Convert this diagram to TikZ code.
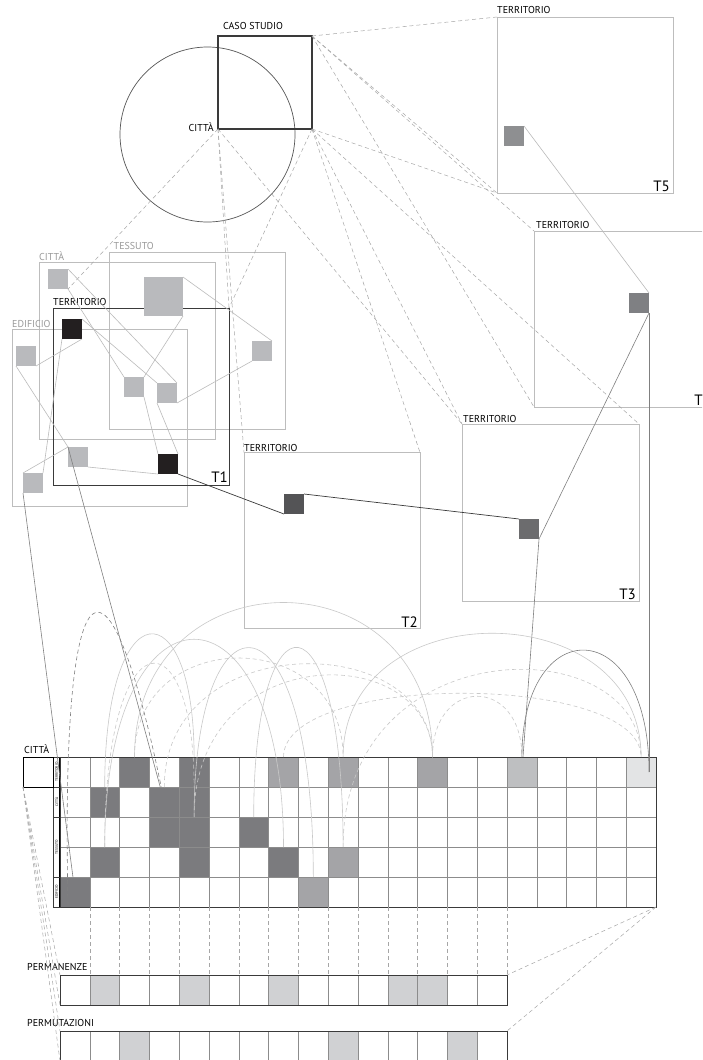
\documentclass[tikz,border=0pt]{standalone}
\usepackage{fontspec}
\setmainfont{PT Sans}
\usetikzlibrary{positioning}

\definecolor{boxgray}{HTML}{BDBDBD}
\definecolor{txtgray}{HTML}{9A9A9A}
\definecolor{sqlight}{HTML}{B9BABD}
\definecolor{sqblack}{HTML}{231F20}
\definecolor{sqTtwo}{HTML}{545456}
\definecolor{sqTthree}{HTML}{6C6C6E}
\definecolor{sqTfour}{HTML}{7F8083}
\definecolor{sqTfive}{HTML}{8E8F91}
\definecolor{cdark}{HTML}{7B7B7E}
\definecolor{cmid}{HTML}{A4A4A7}
\definecolor{clight}{HTML}{BEBFC1}
\definecolor{cvlight}{HTML}{E3E4E5}
\definecolor{cperm}{HTML}{D0D1D3}
\definecolor{cellgray}{HTML}{8C8C8C}
\definecolor{arcgray}{HTML}{C9C9C9}
\definecolor{dashgray}{HTML}{A6A6A6}
\definecolor{linegray}{HTML}{BBBBBB}
\definecolor{framedark}{HTML}{3A3A3A}
\definecolor{circgray}{HTML}{555555}

\begin{document}
\begin{tikzpicture}[x=1pt, y=-1pt,
  lbl/.style={inner sep=0pt, font=\fontsize{10}{12}\selectfont},
  glbl/.style={lbl, text=txtgray},
  tlab/.style={inner sep=0pt, font=\fontsize{15}{17}\selectfont},
  tbox/.style={draw=boxgray, line width=0.9pt, minimum size=176pt, inner sep=0pt, outer sep=0pt},
  lbox/.style={draw=boxgray, line width=0.9pt, minimum width=176pt, minimum height=177pt, inner sep=0pt, outer sep=0pt},
  sq/.style={minimum size=20pt, inner sep=0pt, outer sep=0pt},
  cell/.style={draw=cellgray, line width=0.6pt, minimum width=29.8pt, minimum height=30pt, inner sep=0pt, outer sep=0pt},
  labcell/.style={draw=framedark, line width=0.4pt, minimum width=30pt, minimum height=7pt, inner sep=0pt, outer sep=0pt, rotate=90, font=\fontsize{3.6}{4}\selectfont},
  pframe/.style={framedark, line width=0.9pt},
  dline/.style={dashgray, line width=0.5pt, dash pattern=on 4pt off 3pt},
  thinline/.style={linegray, line width=0.6pt},
  midline/.style={gray, line width=0.6pt},
  darkline/.style={framedark, line width=0.7pt},
  arcl/.style={arcgray, line width=0.6pt},
  arcd/.style={arcl, dash pattern=on 4pt off 3pt},
]
\fill[white] (0,0) rectangle (702,1060);
\clip (0,0) rectangle (702,1060);

\node (city) [circle, draw=circgray, line width=0.7pt, minimum size=175pt, inner sep=0pt] at (207.5,134.5) {};
\node (caso) [draw=framedark, line width=1.3pt, minimum width=94pt, minimum height=93pt, inner sep=0pt, outer sep=0pt] at (265,82.5) {};
\node (casolab) [lbl, above right=6pt and 5pt of caso.north west] {CASO STUDIO};
\node (citylab) [lbl, anchor=base east] at ([xshift=-4pt,yshift=-2pt]caso.south west) {CITTÀ};

\node (t5) [tbox] at (585,105) {};
\node (t4) [tbox] at (622,319) {};
\node (t3) [tbox, minimum size=177pt] at (550.5,512.5) {};
\node (t2) [tbox] at (332,540.5) {};
\node (t5lab) [lbl, above right=3pt and 0pt of t5.north west] {TERRITORIO};
\node (t4lab) [lbl, above right=2pt and 2pt of t4.north west] {TERRITORIO};
\node (t3lab) [lbl, above right=1pt and 1pt of t3.north west] {TERRITORIO};
\node (t2lab) [lbl, above right=1pt and 0pt of t2.north west] {TERRITORIO};
\node (t5num) [tlab, above left=1pt and 3pt of t5.south east] {T5};
\node (t4num) [tlab, above left=1pt and 7pt of t4.south east] {T};
\node (t3num) [tlab, above left=1pt and 3pt of t3.south east] {T3};
\node (t2num) [tlab, above left=1pt and 2pt of t2.south east] {T2};

\node (cittabox) [lbox] at (127,350.5) {};
\node (tessbox) [lbox] at (197.5,340.5) {};
\node (edifbox) [lbox, minimum width=175pt] at (99.5,417.5) {};
\node (terrbox) [lbox, draw=framedark, line width=0.8pt] at (141,396.5) {};
\node (cittalab) [glbl, above right=1pt and 0pt of cittabox.north west] {CITTÀ};
\node (tesslab) [glbl, above right=2pt and 4pt of tessbox.north west] {TESSUTO};
\node (ediflab) [glbl, above right=1pt and 0pt of edifbox.north west] {EDIFICIO};
\node (terrlab) [lbl, above right=2pt and 0pt of terrbox.north west] {TERRITORIO};
\node (t1num) [tlab, above left=2pt and 1pt of terrbox.south east] {T1};

\node (c1) [sq, fill=sqlight] at (58,279) {};
\node (te1) [sq, fill=sqlight, minimum size=39pt] at (163.5,296.5) {};
\node (te2) [sq, fill=sqlight] at (262,351) {};
\node (b1) [sq, fill=sqblack] at (72,329) {};
\node (e1) [sq, fill=sqlight] at (26,356) {};
\node (m1) [sq, fill=sqlight] at (134,387) {};
\node (m2) [sq, fill=sqlight] at (167,393) {};
\node (l2) [sq, fill=sqlight] at (78,457) {};
\node (b2) [sq, fill=sqblack] at (168,464) {};
\node (l1) [sq, fill=sqlight] at (33,483) {};

\node (t5sq) [sq, fill=sqTfive] at (514,136) {};
\node (t4sq) [sq, fill=sqTfour] at (639,303) {};
\node (t3sq) [sq, fill=sqTthree] at (529,529) {};
\node (t2sq) [sq, fill=sqTtwo] at (294,504) {};

\foreach \t in {c1.south east, terrbox.north east, t2.north west, t3.north west}
  \draw[dline] (caso.south west) -- (\t);
\foreach \t in {terrbox.north east, t2.north east, t3.north west, t3.north east, t5.south west}
  \draw[dline] (caso.south east) -- (\t);
\foreach \t in {t5.north west, t5.south west, t4.north west, t4.south west}
  \draw[dline] (caso.north east) -- (\t);

\foreach \u/\v in {c1.north east/m2.north east, c1.south east/m1.north west, b1.north east/m2.north west,
    b1.south east/e1.south east, b1.south west/l1.north east, e1.south west/l2.north west,
    l1.north west/l2.north west, l2.south east/b2.south west, m1.south east/b2.north west,
    m2.south west/b2.north east, m1.north east/te1.south east, te1.north east/te2.north east,
    te2.south west/m2.south east}
  \draw[thinline] (\u) -- (\v);

\draw[darkline] (b2.south east) -- (t2sq.south west);
\draw[darkline] (t2sq.north east) -- (t3sq.north west);
\draw[thinline] (t5sq.north east) -- (t4sq.north east);

% matrice
\foreach \r in {1,...,5}
  \foreach \c in {0,...,19}
    \node (g-\r-\c) [cell] at ({74.9+29.8*\c},{772+30*(\r-1)}) {};
\foreach \rc/\shade in {1-2/cdark, 1-4/cdark, 1-7/cmid, 1-9/cmid, 1-12/cmid, 1-15/clight, 1-19/cvlight,
    2-1/cdark, 2-3/cdark, 2-4/cdark, 3-3/cdark, 3-4/cdark, 3-6/cdark,
    4-1/cdark, 4-4/cdark, 4-7/cdark, 4-9/cmid, 5-0/cdark, 5-8/cmid}
  \node [cell, fill=\shade] at (g-\rc) {};
\draw[framedark, line width=0.6pt] (g-1-0.north west) rectangle (g-5-19.south east);
\draw[line width=1.3pt] (g-1-0.north west) -- (g-5-0.south west);

\node (lab-1) [labcell] at (56.5,772) {TERRITORIO};
\node (lab-2) [labcell] at (56.5,802) {CITTÀ};
\node (lab-34) [labcell, minimum width=60pt] at (56.5,847) {TESSUTO};
\node (lab-5) [labcell] at (56.5,892) {EDIFICIO};

\node (cbox) [draw=black, line width=0.8pt, minimum size=30pt, inner sep=0pt, outer sep=0pt] at (38,772) {};
\node (cboxlab) [lbl, above right=3pt and 1pt of cbox.north west] {CITTÀ};

\coordinate (t4foot) at (t4sq.south east |- g-1-19);
\coordinate (ofoot) at (68,905);
\draw[midline] (t4sq.south east) -- (t3sq.south east) -- (g-1-15);
\draw[midline] (t4sq.south east) -- (t4foot);
\draw[midline] (l1.south west) -- (g-5-0);
\draw[midline] (l2.north west) -- (g-2-3);

\foreach \a/\b/\h in {2-1/1-4/588, 4-1/4-7/570, 3-4/5-8/582, 3-6/4-9/586, 1-9/1-19/592, 1-2/1-12/551}
  \draw[arcl] (g-\a) .. controls (g-\a |- 0,\h) and (g-\b |- 0,\h) .. (g-\b);
\foreach \a/\b/\h in {4-1/2-4/613, 1-2/1-9/625, 2-3/1-12/628, 3-4/1-12/639, 4-9/1-19/628, 1-7/1-19/672, 1-12/1-15/676}
  \draw[arcd] (g-\a) .. controls (g-\a |- 0,\h) and (g-\b |- 0,\h) .. (g-\b);
\draw[gray, line width=0.6pt] (g-1-15) .. controls (g-1-15 |- 0,612) and (t4foot |- 0,612) .. (t4foot);
\draw[gray, line width=0.6pt, dash pattern=on 4pt off 3pt] (ofoot) .. controls (60,537) and (110,537) .. (g-2-3);

% permanenze e permutazioni
\foreach \c in {0,...,14} {
  \node (p-\c) [cell] at ({74.9+29.8*\c},990) {};
  \node (q-\c) [cell] at ({74.9+29.8*\c},1046) {};
}
\foreach \c in {1,4,7,11,12}
  \node [cell, fill=cperm] at (p-\c) {};
\foreach \c in {2,9,13}
  \node [cell, fill=cperm] at (q-\c) {};
\draw[pframe] (p-0.north west) rectangle (p-14.south east);
\draw[pframe] (q-0.north west) rectangle (q-14.south east);
\node (permlab) [lbl, anchor=south west] at ([xshift=-33pt,yshift=4pt]p-0.north west) {PERMANENZE};
\node (permulab) [lbl, anchor=south west] at ([xshift=-33pt,yshift=4pt]q-0.north west) {PERMUTAZIONI};

\foreach \c in {0,...,14}
  \draw[dline] (g-5-\c.south east) -- (p-\c.north east);
\draw[dline] (g-5-19.south east) -- (p-14.north east);
\draw[dline] (g-5-19.south east) -- (q-14.north east);
\foreach \t in {p-0.north west, p-0.south west, q-0.north west, q-0.south west}
  \draw[dline] (cbox.south west) -- (\t);
\end{tikzpicture}
\end{document}
